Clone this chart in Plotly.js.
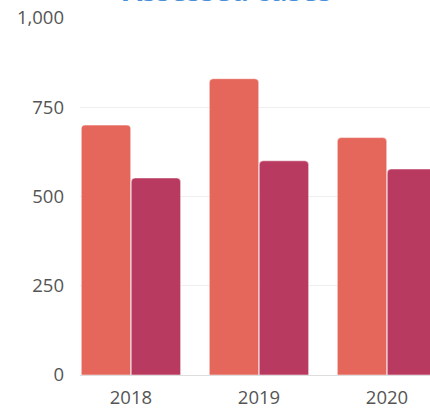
<!DOCTYPE html>
<html>
<head>
<meta charset="utf-8">
<script src="https://cdn.plot.ly/plotly-3.0.1.min.js"></script>
<style>html,body{margin:0;padding:0;background:#fff;}#chart{width:430px;height:408px;}</style>
</head>
<body>
<div id="chart"></div>
<script>
var categories = ['2018', '2019', '2020'];
var seriesA = [700, 830, 665];
var seriesB = [552, 600, 577];
var yTicks = [0, 250, 500, 750, 1000];
var titleText = 'Assessed cases';

var traces = [
  {type: 'bar', x: categories, y: seriesA, name: 'A',
   marker: {color: '#E5675C', cornerradius: 4, line: {color: '#ffffff', width: 0.5}}, hoverinfo: 'y'},
  {type: 'bar', x: categories, y: seriesB, name: 'B',
   marker: {color: '#B93A60', cornerradius: 4, line: {color: '#ffffff', width: 0.5}}, hoverinfo: 'y'}
];

var layout = {
  width: 430, height: 408,
  margin: {l: 80, r: 0, t: 18, b: 33, pad: 0},
  paper_bgcolor: '#ffffff', plot_bgcolor: '#ffffff',
  showlegend: false,
  barmode: 'group',
  bargap: 0.22,
  bargroupgap: 0.01,
  font: {family: 'Open Sans, sans-serif', color: '#555555', size: 18},
  xaxis: {
    type: 'category',
    range: [-0.398, 2.336],
    showgrid: false, zeroline: false, showline: false,
    ticks: '', ticklabelstandoff: 9, tickfont: {size: 18.5, color: '#555555'},
    fixedrange: true
  },
  yaxis: {
    range: [0, 1000],
    tickvals: yTicks,
    tickformat: ',d',
    showgrid: true, gridcolor: '#eeeeee', gridwidth: 1,
    zeroline: true, zerolinecolor: '#dddddd', zerolinewidth: 1,
    showline: false, ticks: '', ticklabelstandoff: 15,
    tickfont: {size: 18.5, color: '#555555'},
    fixedrange: true
  },
  annotations: [{
    text: '<b>' + titleText + '</b>',
    xref: 'paper', yref: 'paper', x: 0.42, y: 1,
    xanchor: 'center', yanchor: 'bottom', yshift: 7,
    showarrow: false,
    font: {family: 'Open Sans, sans-serif', size: 28, color: '#4A8FD9'}
  }]
};

Plotly.newPlot('chart', traces, layout, {displayModeBar: false, staticPlot: true});
</script>
</body>
</html>
